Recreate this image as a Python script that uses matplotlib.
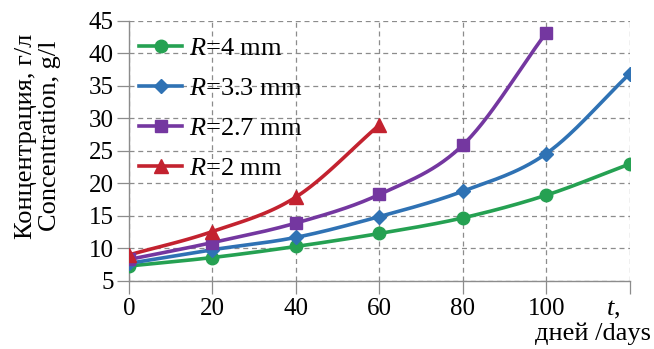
import numpy as np
import matplotlib
matplotlib.use("Agg")
import matplotlib.pyplot as plt
from matplotlib.lines import Line2D

days = [0, 20, 40, 60, 80, 100, 120]
day_labels = ["0", "20", "40", "60", "80", "100", ""]
r4 = [7.3, 8.6, 10.3, 12.3, 14.7, 18.2, 23.0]
r33 = [7.7, 9.8, 11.7, 14.9, 18.8, 24.6, 36.9]
r27 = [8.3, 10.9, 13.9, 18.3, 25.9, 43.2]
r2 = [9.0, 12.6, 17.9, 29.0]
labels = ["4", "3.3", "2.7", "2"]
colors = ["#25a152", "#2f72b4", "#7437a0", "#c3222f"]
markers = ["o", "D", "s", "^"]
msizes = [9, 7, 8.5, 10]

plt.rcParams['font.family'] = ['Liberation Serif', 'DejaVu Serif']
plt.rcParams['mathtext.fontset'] = 'custom'
plt.rcParams['mathtext.it'] = 'Liberation Serif:italic'
plt.rcParams['mathtext.rm'] = 'Liberation Serif'

fig = plt.figure(figsize=(6.54, 3.49), dpi=100)
ax = fig.add_axes([0.197, 0.195, 0.766, 0.745])


def smooth(x, y, n=30):
    x = np.asarray(x, float); y = np.asarray(y, float)
    P = np.column_stack([x, y])
    P = np.vstack([2 * P[0] - P[1], P, 2 * P[-1] - P[-2]])
    out = []
    for i in range(1, len(P) - 2):
        p0, p1, p2, p3 = P[i - 1], P[i], P[i + 1], P[i + 2]
        t = np.linspace(0, 1, n, endpoint=False)[:, None]
        seg = 0.5 * ((2 * p1) + (-p0 + p2) * t + (2 * p0 - 5 * p1 + 4 * p2 - p3) * t ** 2
                     + (-p0 + 3 * p1 - 3 * p2 + p3) * t ** 3)
        out.append(seg)
    out.append(P[-2][None, :])
    out = np.vstack(out)
    return out[:, 0], out[:, 1]

series = [r4, r33, r27, r2]
handles = []
for s, lab, c, m, ms in zip(series, labels, colors, markers, msizes):
    xs = days[:len(s)]
    sx, sy = smooth(xs, s)
    ax.plot(sx, sy, color=c, lw=2.6, solid_capstyle='round', zorder=3)
    ax.plot(xs, s, linestyle='none', marker=m, ms=ms, color=c, mec=c, zorder=4)
    handles.append(Line2D([], [], color=c, lw=2.6, marker=m, ms=ms, label=r"$R$=" + lab + " mm"))

ax.set_xlim(0, 120)
ax.set_ylim(5, 45)
ax.set_xticks(days)
ax.set_xticklabels(day_labels)
ax.set_yticks(range(5, 46, 5))
ax.grid(True, linestyle=(0, (4, 3)), color='#8c8c8c', lw=0.9)
ax.set_axisbelow(True)
for sp in ['top', 'right']:
    ax.spines[sp].set_visible(False)
for sp in ['left', 'bottom']:
    ax.spines[sp].set_color('#8c8c8c')
    ax.spines[sp].set_linewidth(1.0)
ax.tick_params(axis='both', length=9, width=0.9, color='#8c8c8c', labelsize=18, pad=2)
ax.tick_params(axis='x', pad=3)

fig.text(0.058, 1 - 136 / 349, "Концентрация, г/л\nConcentration, g/l", fontsize=19,
         rotation=90, ha='center', va='center', linespacing=1.1, multialignment='center')
fig.text(0.927, 0.095, r"$t$,", fontsize=19, ha='left', va='baseline')
fig.text(0.995, 0.026, "дней /days", fontsize=19, ha='right', va='baseline')

leg = ax.legend(handles=handles, loc='upper left', frameon=False, fontsize=19,
                handlelength=1.65, handletextpad=0.25, labelspacing=0.63,
                borderaxespad=0.0, borderpad=0.0, bbox_to_anchor=(0.02, 0.94))

fig.savefig("out.png", dpi=100, facecolor='white')
